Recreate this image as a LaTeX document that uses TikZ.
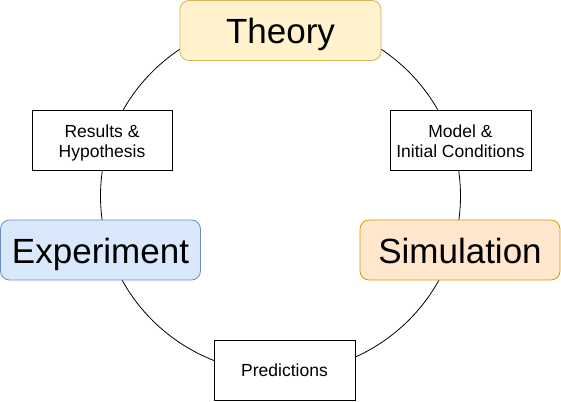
\documentclass[tikz,border=0pt]{standalone}
\usepackage{fontspec}
\setmainfont{Liberation Sans}
\begin{document}
\begin{tikzpicture}[x=1pt,y=-1pt,
  big/.style={draw, rounded corners=9pt, line width=0.8pt, inner sep=0pt,
    minimum height=60pt, text height=26pt, text depth=0pt,
    font=\fontsize{35}{42}\selectfont},
  small/.style={draw=black, fill=white, line width=0.8pt, inner sep=0pt,
    minimum width=141pt, minimum height=60pt, align=center,
    font=\fontsize{17.5}{19.5}\selectfont},
  twoline/.style={text height=34.4pt, text depth=0pt}]
\definecolor{thfill}{HTML}{FFF2CC}\definecolor{thdraw}{HTML}{D6B656}
\definecolor{exfill}{HTML}{DAE8FC}\definecolor{exdraw}{HTML}{6C8EBF}
\definecolor{sifill}{HTML}{FFE6CC}\definecolor{sidraw}{HTML}{D79B00}
\useasboundingbox (0,0) rectangle (561,401);
\coordinate (c) at (280.5,196);
\draw[line width=0.8pt] (c) ellipse [x radius=180, y radius=177];
\node[big, fill=thfill, draw=thdraw, minimum width=201pt] (theory) at (280.5,30.5) {Theory};
\node[big, fill=exfill, draw=exdraw, minimum width=200pt] (exp) at (100.5,250) {Experiment};
\node[big, fill=sifill, draw=sidraw, minimum width=200pt] (sim) at (460,250) {Simulation};
\node[small, twoline, minimum width=140pt] (res) at (102,140) {Results \&\\Hypothesis};
\node[small, twoline] (model) at (460.5,140) {Model \&\\Initial Conditions};
\node[small, text height=13pt, text depth=0pt] (pred) at (284.5,370) {Predictions};
\end{tikzpicture}
\end{document}
